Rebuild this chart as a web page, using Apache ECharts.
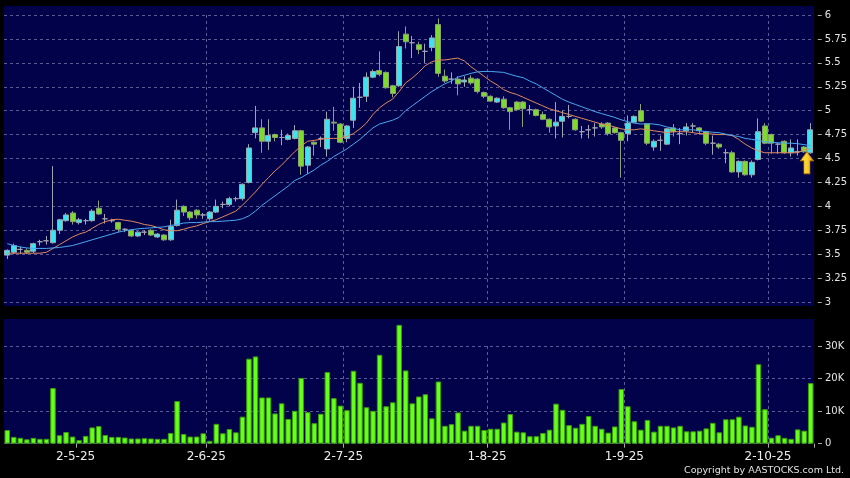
<!DOCTYPE html>
<html><head><meta charset="utf-8">
<script src="https://cdn.jsdelivr.net/npm/echarts@6/dist/echarts.min.js"></script>
<style>html,body{margin:0;padding:0;background:#000;}#c{width:850px;height:478px;}</style>
</head><body><div id="c"></div>
<script>
// ---- trading calendar (HK) ----
const startDate = '2025-04-15';
const tradingDayCount = 124;
const holidays = ['2025-04-18','2025-04-21','2025-05-01','2025-05-05','2025-07-01','2025-10-01','2025-10-07'];
function buildDates() {
  const out = [];
  const d = new Date(startDate + 'T00:00:00Z');
  while (out.length < tradingDayCount) {
    const s = d.toISOString().slice(0, 10);
    const wd = d.getUTCDay();
    if (wd !== 0 && wd !== 6 && holidays.indexOf(s) < 0) out.push(s);
    d.setUTCDate(d.getUTCDate() + 1);
  }
  return out;
}
const categories = buildDates();

// ---- price data ----
const opens = [
3.49,3.52,3.55,3.54,3.53,3.63,3.64,3.62,3.75,3.85,
3.93,3.83,3.85,3.85,3.98,3.87,3.85,3.83,3.76,3.75,
3.69,3.73,3.75,3.68,3.70,3.65,3.80,4.00,3.94,3.96,
3.91,3.87,3.94,4.02,4.02,4.08,4.08,4.25,4.77,4.82,
4.68,4.75,4.72,4.70,4.71,4.79,4.43,4.67,4.71,4.60,
4.88,4.86,4.71,4.90,5.14,5.15,5.35,5.42,5.40,5.26,
5.26,5.80,5.71,5.69,5.62,5.66,5.90,5.36,5.33,5.33,
5.30,5.34,5.33,5.19,5.15,5.09,5.12,5.03,5.09,5.09,
5.01,5.01,4.96,4.91,4.84,4.89,4.94,4.91,4.78,4.80,
4.82,4.86,4.87,4.82,4.77,4.76,4.88,5.00,4.86,4.62,
4.69,4.65,4.82,4.76,4.79,4.84,4.82,4.78,4.66,4.65,
4.56,4.56,4.36,4.47,4.33,4.49,4.84,4.75,4.65,4.68,
4.56,4.57,4.62,4.56];
const closes = [
3.54,3.59,3.55,3.52,3.61,3.63,3.64,3.75,3.86,3.91,
3.84,3.86,3.85,3.95,3.92,3.87,3.85,3.76,3.76,3.69,
3.73,3.73,3.70,3.71,3.65,3.79,3.96,3.94,3.88,3.91,
3.91,3.94,4.00,4.02,4.08,4.08,4.23,4.61,4.82,4.68,
4.74,4.72,4.72,4.74,4.79,4.42,4.62,4.65,4.71,4.91,
4.87,4.67,4.84,5.13,5.14,5.35,5.41,5.38,5.24,5.18,
5.67,5.72,5.71,5.64,5.62,5.76,5.39,5.31,5.33,5.28,
5.32,5.29,5.20,5.15,5.10,5.13,5.03,4.99,5.01,5.02,
5.01,4.95,4.91,4.83,4.88,4.94,4.94,4.80,4.78,4.80,
4.82,4.83,4.76,4.77,4.69,4.87,4.94,4.89,4.66,4.68,
4.69,4.81,4.78,4.76,4.83,4.84,4.79,4.66,4.66,4.62,
4.56,4.36,4.47,4.33,4.46,4.78,4.66,4.66,4.65,4.56,
4.61,4.57,4.57,4.80];
const lows = [
3.45,3.50,3.50,3.50,3.51,3.59,3.60,3.61,3.71,3.84,
3.81,3.81,3.81,3.84,3.91,3.82,3.83,3.73,3.73,3.68,
3.68,3.70,3.69,3.67,3.64,3.64,3.79,3.90,3.855,3.87,
3.87,3.85,3.93,3.98,4.00,4.05,4.06,4.24,4.71,4.56,
4.59,4.68,4.64,4.69,4.70,4.33,4.34,4.53,4.62,4.52,
4.79,4.66,4.67,4.82,5.03,5.09,5.34,5.36,5.23,5.14,
5.25,5.65,5.55,5.59,5.50,5.62,5.355,5.29,5.28,5.16,
5.25,5.27,5.18,5.13,5.09,5.08,5.02,4.80,5.00,4.83,
4.96,4.94,4.90,4.77,4.71,4.72,4.92,4.79,4.71,4.71,
4.73,4.81,4.74,4.76,4.30,4.68,4.87,4.88,4.64,4.58,
4.58,4.64,4.73,4.65,4.74,4.77,4.75,4.64,4.54,4.60,
4.45,4.35,4.30,4.32,4.30,4.48,4.65,4.55,4.55,4.55,
4.52,4.53,4.56,4.55];
const highs = [
3.55,3.61,3.58,3.56,3.62,3.65,3.69,4.42,3.87,3.93,
3.95,3.88,3.87,3.97,4.06,3.92,3.87,3.84,3.77,3.76,
3.74,3.75,3.76,3.72,3.71,3.86,4.07,4.01,3.95,3.97,
3.93,3.95,4.07,4.05,4.10,4.10,4.24,4.65,5.05,4.91,
4.91,4.76,4.80,4.76,4.85,4.80,4.63,4.68,4.73,4.99,
5.04,4.87,4.85,5.25,5.29,5.40,5.43,5.62,5.41,5.27,
5.83,5.88,5.78,5.72,5.70,5.79,5.965,5.43,5.40,5.36,
5.36,5.37,5.34,5.20,5.16,5.14,5.15,5.04,5.10,5.10,
5.06,5.02,4.99,4.92,5.09,5.00,5.06,4.92,4.84,4.85,
4.87,4.88,4.88,4.83,4.78,4.95,4.95,5.07,4.87,4.70,
4.74,4.82,4.86,4.82,4.87,4.87,4.83,4.79,4.74,4.66,
4.60,4.58,4.48,4.48,4.48,4.92,4.87,4.76,4.66,4.69,
4.70,4.70,4.63,4.87];

// moving averages as drawn (orange = short, blue = long)
const maShort = [
3.51,3.51,3.51,3.51,3.51,3.51,3.52,3.56,3.60,3.64,
3.68,3.71,3.73,3.77,3.81,3.84,3.86,3.865,3.855,3.845,
3.83,3.81,3.80,3.78,3.755,3.745,3.745,3.76,3.78,3.795,
3.82,3.84,3.86,3.89,3.92,3.95,4.01,4.08,4.15,4.23,
4.30,4.37,4.43,4.50,4.57,4.63,4.68,4.69,4.70,4.71,
4.71,4.71,4.73,4.76,4.81,4.87,4.96,5.03,5.08,5.12,
5.20,5.29,5.34,5.40,5.47,5.51,5.53,5.53,5.54,5.55,
5.52,5.46,5.41,5.36,5.31,5.27,5.22,5.19,5.17,5.14,
5.11,5.08,5.05,5.02,5.00,4.98,4.96,4.94,4.92,4.90,
4.88,4.86,4.85,4.83,4.81,4.80,4.80,4.81,4.80,4.79,
4.78,4.77,4.78,4.78,4.78,4.77,4.76,4.76,4.755,4.75,
4.75,4.74,4.70,4.65,4.61,4.58,4.56,4.56,4.56,4.56,
4.56,4.56,4.59,4.60];
const maLong = [
3.61,3.59,3.575,3.565,3.56,3.56,3.56,3.565,3.57,3.58,
3.59,3.61,3.63,3.65,3.67,3.69,3.71,3.73,3.745,3.755,
3.765,3.77,3.775,3.78,3.785,3.80,3.81,3.825,3.83,3.83,
3.835,3.84,3.84,3.845,3.85,3.855,3.87,3.90,3.95,4.01,
4.06,4.11,4.16,4.21,4.27,4.30,4.34,4.38,4.43,4.47,
4.52,4.56,4.60,4.65,4.70,4.76,4.82,4.86,4.88,4.90,
4.93,5.00,5.05,5.10,5.15,5.20,5.24,5.28,5.31,5.35,
5.37,5.39,5.405,5.41,5.41,5.405,5.40,5.38,5.36,5.345,
5.31,5.28,5.24,5.20,5.16,5.12,5.09,5.065,5.04,5.015,
4.99,4.97,4.95,4.93,4.905,4.885,4.87,4.86,4.865,4.86,
4.85,4.83,4.815,4.80,4.80,4.80,4.79,4.78,4.775,4.77,
4.755,4.74,4.73,4.71,4.70,4.69,4.675,4.67,4.665,4.66,
4.66,4.655,4.645,4.635];

const volumes = [
4200,2100,1800,1350,1800,1500,1500,17100,2600,3600,
2200,1100,2400,5000,5400,2700,2100,2100,1900,1600,
1600,1700,1600,1500,1500,3300,13100,3000,2200,2200,
3200,900,6100,3200,4500,3500,8300,26100,26800,14200,
14200,9300,12400,7600,10100,20200,9700,6300,9200,22000,
14000,11700,10300,22400,18700,11200,10100,27300,11500,12700,
36500,22500,12400,14500,15200,7800,19100,5500,6000,9600,
4000,5500,5500,4200,4600,4600,6500,9100,3700,3500,
2300,2300,3300,4300,12300,10400,5700,4900,6100,8500,
5500,4600,3400,5300,16800,11500,6900,4300,7300,3700,
5500,5500,5000,5500,3800,3800,4000,4700,6400,3500,
7500,7500,8300,5600,5200,24400,10600,1850,2600,1800,
1500,4400,4000,18600];

const arrowMark = { index: 122, price: 4.57 };
const copyrightText = 'Copyright by AASTOCKS.com Ltd.';

// ---- helpers ----
const monthOf = i => categories[i].slice(5, 7);
const isMonthStart = i => i > 0 && i < categories.length && monthOf(i) !== monthOf(i - 1);
const fmtDate = s => { const p = s.split('-'); return (+p[2]) + '-' + (+p[1]) + '-' + p[0].slice(2); };

const candleData = opens.map((o, i) => [o, closes[i], lows[i], highs[i]]);

const FONT = 'DejaVu Sans';
const NAVY = '#02024a';
const gridLine = { color: '#5a5a94', type: [3, 3], width: 1 };

const chart = echarts.init(document.getElementById('c'), null, { renderer: 'canvas' });
chart.setOption({
  backgroundColor: '#000',
  animation: false,
  textStyle: { fontFamily: FONT },
  graphic: [
    { type: 'rect', z: -10, silent: true, shape: { x: 4, y: 6, width: 810, height: 300 }, style: { fill: NAVY } },
    { type: 'rect', z: -10, silent: true, shape: { x: 4, y: 319, width: 810, height: 125 }, style: { fill: NAVY } },
    { type: 'text', right: 6, top: 466, style: { text: copyrightText, fill: '#e0e0e0', font: '9.5px "DejaVu Sans"' } }
  ],
  grid: [
    { left: 4, right: 36, top: 15, height: 287 },
    { left: 4, right: 36, top: 346, height: 97.7 }
  ],
  xAxis: [
    {
      type: 'category', gridIndex: 0, data: categories, boundaryGap: true,
      axisLine: { show: false }, axisTick: { show: false }, axisLabel: { show: false },
      splitLine: { show: true, interval: i => isMonthStart(i - 1), showMinLine: false, showMaxLine: false, lineStyle: gridLine }
    },
    {
      type: 'category', gridIndex: 1, data: categories, boundaryGap: true, offset: 1,
      axisLine: { show: false },
      axisTick: { show: true, length: 4, interval: i => isMonthStart(i - 1), lineStyle: { color: '#aaaaaa' } },
      axisLabel: { show: true, interval: i => isMonthStart(i), formatter: v => fmtDate(v), color: '#eeeeee',
                   fontSize: 12, fontFamily: FONT, margin: 6, padding: [0, 0, 0, 6] },
      splitLine: { show: true, interval: i => isMonthStart(i - 1), showMinLine: false, showMaxLine: false, lineStyle: gridLine }
    }
  ],
  yAxis: [
    {
      type: 'value', gridIndex: 0, position: 'right', offset: 4, min: 3, max: 6, interval: 0.25,
      axisLine: { show: false },
      axisTick: { show: true, length: 4, lineStyle: { color: '#aaaaaa' } },
      axisLabel: { color: '#e4e4e4', fontSize: 10, fontFamily: FONT, margin: 7, formatter: v => String(+v.toFixed(2)) },
      splitLine: { show: true, lineStyle: gridLine }
    },
    {
      type: 'value', gridIndex: 1, position: 'right', offset: 4, min: 0, max: 30000, interval: 10000,
      axisLine: { show: false },
      axisTick: { show: true, length: 4, lineStyle: { color: '#aaaaaa' } },
      axisLabel: { color: '#e4e4e4', fontSize: 10, fontFamily: FONT, margin: 7, formatter: v => v === 0 ? '0' : (v / 1000) + 'K' },
      splitLine: { show: true, lineStyle: gridLine }
    }
  ],
  series: [
    {
      type: 'candlestick', xAxisIndex: 0, yAxisIndex: 0, data: candleData, barWidth: 5.5, z: 2,
      itemStyle: { color: '#3ce4f0', color0: '#7ddc2a', borderColor: '#98a8ae', borderColor0: '#8ca07a',
                   borderColorDoji: '#a4a4b4', borderWidth: 1 },
      markPoint: {
        silent: true,
        symbol: 'path://M6.5,0L13,9L9.5,9L9.5,22L3.5,22L3.5,9L0,9Z',
        symbolSize: [13, 22], symbolKeepAspect: false, symbolOffset: [3, 11],
        label: { show: false },
        itemStyle: {
          color: { type: 'linear', x: 0, y: 0, x2: 1, y2: 0, colorStops: [
            { offset: 0, color: '#ffe45a' }, { offset: 0.5, color: '#ffd030' }, { offset: 1, color: '#e8a000' } ] },
          borderColor: '#b87800', borderWidth: 0.8
        },
        data: [{ coord: [categories[arrowMark.index], arrowMark.price] }]
      }
    },
    { type: 'line', xAxisIndex: 0, yAxisIndex: 0, data: maShort, symbol: 'none', z: 3,
      lineStyle: { color: '#e08a5e', width: 1 } },
    { type: 'line', xAxisIndex: 0, yAxisIndex: 0, data: maLong, symbol: 'none', z: 3,
      lineStyle: { color: '#4aa8f0', width: 1 } },
    { type: 'bar', xAxisIndex: 1, yAxisIndex: 1, data: volumes, barWidth: 5.5, clip: false,
      itemStyle: { color: '#66ff1a', borderColor: '#3c9c0c', borderWidth: 1 } }
  ]
});
</script></body></html>
